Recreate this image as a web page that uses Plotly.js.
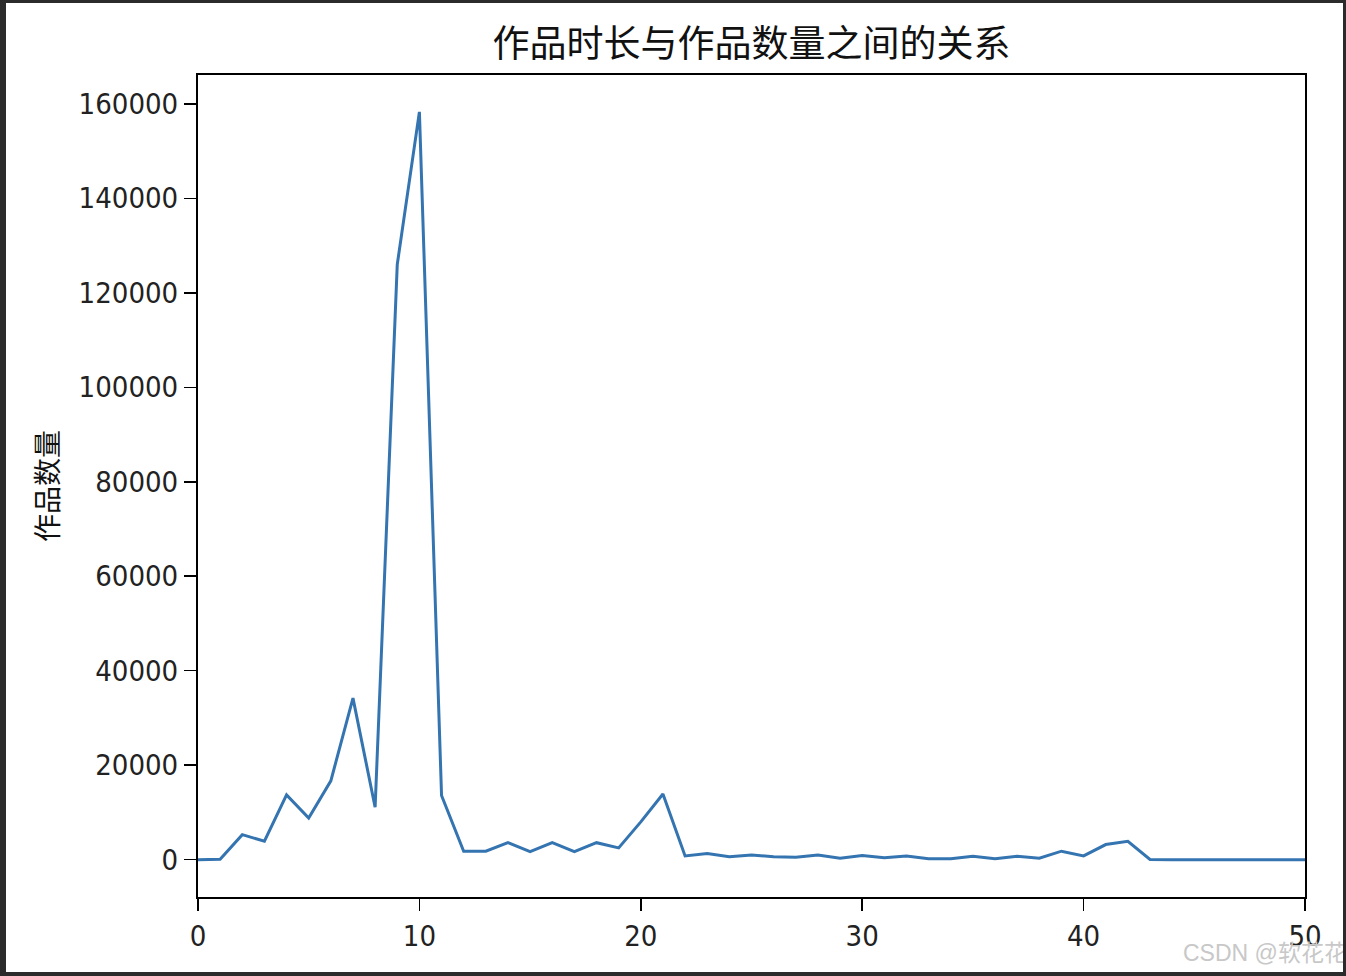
<!DOCTYPE html>
<html>
<head>
<meta charset="utf-8">
<script src="https://cdn.plot.ly/plotly-3.0.1.min.js"></script>
<style>
  html, body { margin: 0; padding: 0; width: 1346px; height: 976px; background: #2b2b2b; overflow: hidden; }
  #chart { position: absolute; left: 6px; top: 3px; width: 1337px; height: 969px; background: #fff; }
</style>
</head>
<body>
<div id="chart"></div>
<script>
const durations = [0,1,2,3,4,5,6,7,8,9,10,11,12,13,14,15,16,17,18,19,20,21,22,23,24,25,26,27,28,29,30,31,32,33,34,35,36,37,38,39,40,41,42,43,44,45,46,47,48,49,50];
const counts = [0,100,5300,3900,13700,8800,16700,34200,11100,126000,158300,13600,1800,1800,3600,1700,3600,1700,3600,2500,8000,13900,800,1300,600,1000,600,500,1000,300,900,400,800,200,200,700,200,700,300,1800,800,3200,3900,50,0,0,0,0,0,0,0];
const yTicks = [0,20000,40000,60000,80000,100000,120000,140000,160000];
const xTicks = [0,10,20,30,40,50];
const titleText = '作品时长与作品数量之间的关系';
const yTitle = '作品数量';
const watermark = 'CSDN @软花花';

const trace = {
  x: durations, y: counts, type: 'scatter', mode: 'lines',
  line: {color: '#3474b0', width: 3}, hoverinfo: 'x+y'
};
const tickFont = {family: '"DejaVu Sans Condensed", "Noto Sans", sans-serif', size: 29, color: '#222'};
const layout = {
  width: 1337, height: 969,
  margin: {l: 192, r: 38, t: 72, b: 75, pad: 0},
  paper_bgcolor: '#ffffff', plot_bgcolor: '#ffffff',
  showlegend: false,
  title: {text: titleText, xref: 'paper', x: 0.5, xanchor: 'center', y: 0.958, yanchor: 'middle',
          font: {family: '"Noto Sans CJK SC", sans-serif', size: 37, color: '#111'}},
  xaxis: {range: [0, 50], tickvals: xTicks, ticktext: xTicks.map(String),
          showgrid: false, zeroline: false, showline: true, mirror: true,
          linecolor: '#000', linewidth: 2, ticks: 'outside', ticklen: 12, tickwidth: 1.5, tickcolor: '#000',
          tickfont: tickFont},
  yaxis: {range: [-7900, 166100], tickvals: yTicks, ticktext: yTicks.map(String),
          showgrid: false, zeroline: false, showline: true, mirror: true,
          linecolor: '#000', linewidth: 2, ticks: 'outside', ticklen: 12, tickwidth: 1.5, tickcolor: '#000',
          tickfont: tickFont,
          title: {text: yTitle, standoff: 12, font: {family: '"Noto Sans CJK SC", sans-serif', size: 28, color: '#111'}}},
  annotations: [{
    text: watermark, xref: 'paper', yref: 'paper', x: 1.04, y: -0.05,
    xanchor: 'right', yanchor: 'top', showarrow: false,
    font: {family: '"Liberation Sans", "Noto Sans CJK SC", sans-serif', size: 23, color: '#c8c8c8'}
  }]
};
Plotly.newPlot('chart', [trace], layout, {displayModeBar: false, staticPlot: true});
</script>
</body>
</html>
